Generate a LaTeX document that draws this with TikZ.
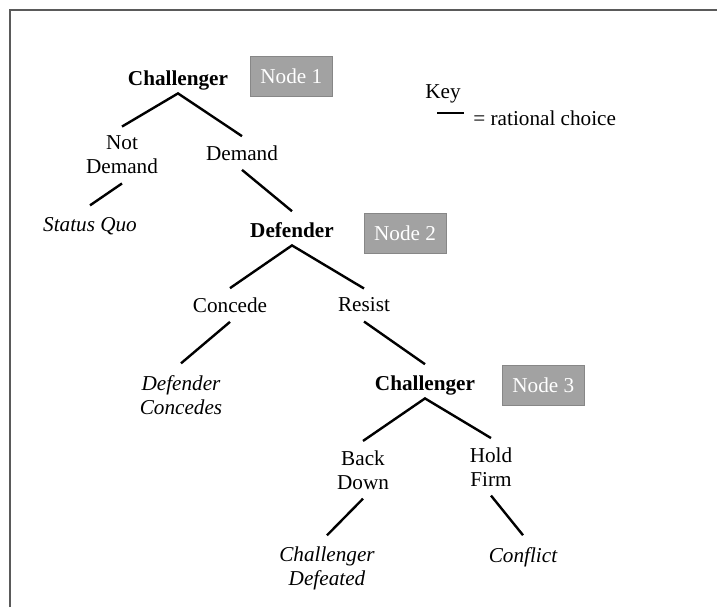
\documentclass[tikz,border=0pt]{standalone}
\usepackage{fontspec}
\setmainfont{Liberation Serif}
\usepackage{tikz}
\definecolor{boxgray}{RGB}{162,162,162}
\definecolor{boxedge}{RGB}{135,135,135}
\definecolor{framegray}{RGB}{90,90,90}
\tikzset{
  gt_node/.style = {inner sep=0pt, font=\fontsize{10.6}{12}\selectfont},
  gt_player/.style = {gt_node, anchor=base, font=\fontsize{10.6}{12}\selectfont\bfseries,
    inner ysep=1.7pt, text height=11pt, text depth=2.3pt},% arbre de jeu, joueur
  gt_move/.style = {gt_node, align=center, inner ysep=4.5pt},% arbre de jeu, action
  gt_out/.style = {gt_node, align=center, inner ysep=5.75pt,
    font=\fontsize{10.6}{12}\selectfont\itshape},% arbre de jeu, issue
  gt_box/.style = {gt_node, fill=boxgray, draw=boxedge, text=white,
    minimum width=41pt, minimum height=20pt},% etiquette du noeud
  gt_edge/.style = {line width=1.2pt}
}

\begin{document}
\begin{tikzpicture}[x=0.5pt, y=-0.5pt]
\useasboundingbox (0,0) rectangle (717,607);
\draw[framegray, line width=0.6pt] (10,607) -- (10,10) -- (717,10);
% premier coup
\node [gt_player] (ch1) at (178,85) {Challenger};
\node [gt_box] (n1) at (291.3,76.7) {Node 1};
\node [gt_move] (nd) at (122,155) {Not\\Demand};
\node [gt_move] (dm) at (242,153) {Demand};
\node [gt_out] (sq) at (90,226) {Status Quo};
% second coup
\node [gt_player] (df) at (292,237) {Defender};
\node [gt_box] (n2) at (405,233.3) {Node 2};
\node [gt_move] (cc) at (230,305) {Concede};
\node [gt_move] (rs) at (364,305) {Resist};
\node [gt_out] (dc) at (181,394.8) {Defender\\Concedes};
% troisieme coup
\node [gt_player] (ch3) at (425,390) {Challenger};
\node [gt_box] (n3) at (543.3,385) {Node 3};
\node [gt_move] (bd) at (363,469.8) {Back\\Down};
\node [gt_move] (hf) at (491,466.8) {Hold\\Firm};
\node [gt_out] (cd) at (327,568.8) {Challenger\\Defeated};
\node [gt_out] (cf) at (523,556.8) {Conflict};
% legende
\node [gt_node] (key) at (443,94) {Key};
\node [gt_node, anchor=west] (rc) at (473,118) {= rational choice};
\coordinate (k1) at (437,113);
\coordinate (k2) at (464,113);

\draw [gt_edge] (nd.north) -- (ch1.south) -- (dm.north);
\draw [gt_edge] (nd.south) -- (sq.north);
\draw [gt_edge] (dm.south) -- (df.north);
\draw [gt_edge] (cc.north) -- (df.south) -- (rs.north);
\draw [gt_edge] (cc.south) -- (dc.north);
\draw [gt_edge] (rs.south) -- (ch3.north);
\draw [gt_edge] (bd.north) -- (ch3.south) -- (hf.north);
\draw [gt_edge] (bd.south) -- (cd.north);
\draw [gt_edge] (hf.south) -- (cf.north);
\draw [line width=1.3pt] (k1) -- (k2);
\end{tikzpicture}
\end{document}
